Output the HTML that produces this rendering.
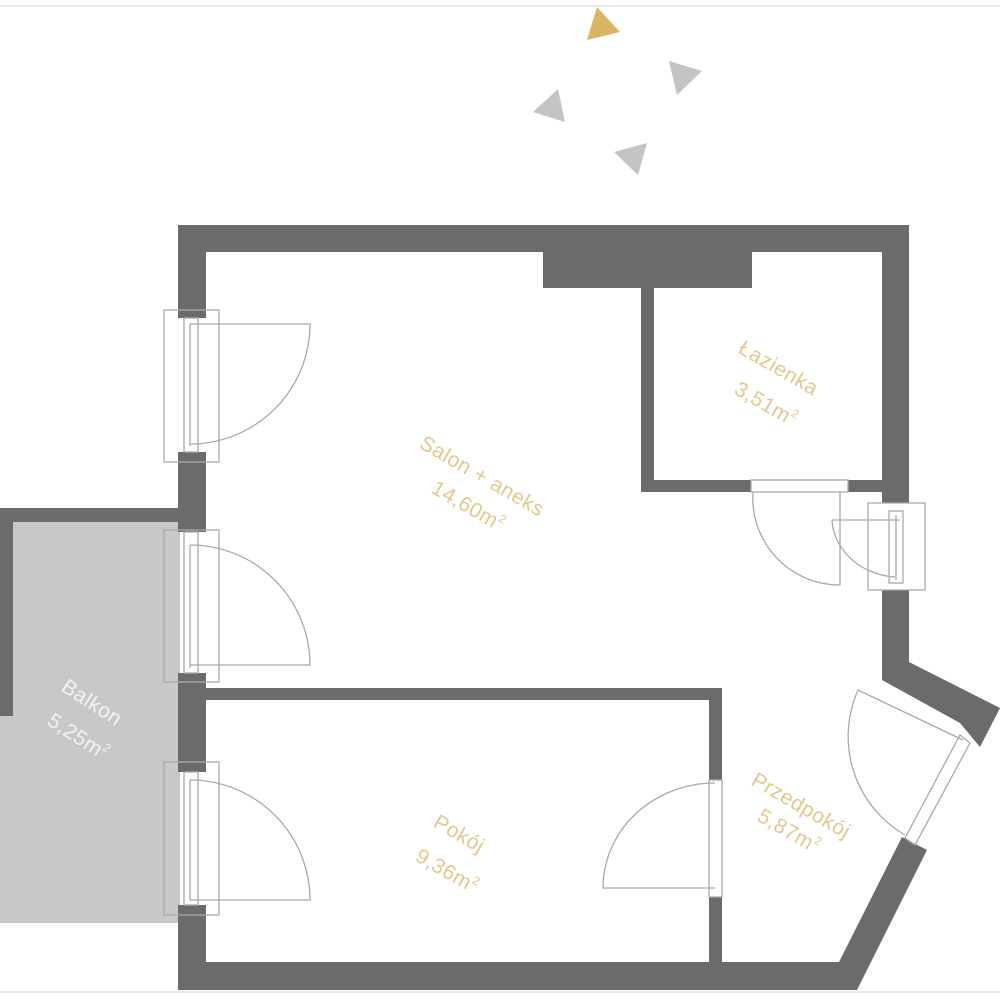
<!DOCTYPE html>
<html><head><meta charset="utf-8"><style>
html,body{margin:0;padding:0;background:#fff;width:1000px;height:1000px;overflow:hidden}
svg{display:block}
text{font-family:"Liberation Sans",sans-serif;fill:#e3c88e;font-size:21px;letter-spacing:0.5px}
</style></head><body>
<svg width="1000" height="1000" viewBox="0 0 1000 1000">
<line x1="0" y1="6" x2="1000" y2="6" stroke="#e2e2e2" stroke-width="1.5"/>
<line x1="0" y1="992" x2="1000" y2="992" stroke="#e2e2e2" stroke-width="1.5"/>
<polygon points="597,7 620,32 587,40" fill="#dbb464"/>
<polygon points="669,61 702,71 677,95" fill="#c4c4c4"/>
<polygon points="558,89 565,122 533,112" fill="#c4c4c4"/>
<polygon points="647,143 638,175 614,152" fill="#c4c4c4"/>
<rect x="0" y="520" width="180" height="403" fill="#c8c8c8"/>
<rect x="0" y="508" width="180" height="14" fill="#6d6b69"/>
<rect x="0" y="508" width="13" height="208" fill="#6d6b69"/>
<g fill="#6d6b69">
<rect x="178" y="225" width="731" height="27"/>
<rect x="178" y="225" width="28" height="93"/>
<rect x="178" y="452" width="28" height="80"/>
<rect x="178" y="673" width="28" height="99"/>
<rect x="178" y="905" width="28" height="85"/>
<polygon points="178,962 839,962 902,837 927,850 857,990 178,990"/>
<rect x="882" y="225" width="27" height="278"/>
<polygon points="882,590 909,590 909,662 1000,708 980,747 960,723 882,680"/>
<rect x="543" y="252" width="209" height="36"/>
<rect x="641" y="252" width="13" height="240"/>
<rect x="641" y="480" width="110" height="12"/>
<rect x="848" y="480" width="34" height="12"/>
<rect x="206" y="688" width="516" height="12"/>
<rect x="709" y="688" width="13" height="92"/>
<rect x="709" y="897" width="13" height="65"/>
</g>
<g fill="none" stroke="#a9a9a9" stroke-width="1.3">
<rect x="164" y="310" width="55" height="152"/>
<rect x="184" y="318" width="14" height="134"/><line x1="190" y1="324" x2="190" y2="446"/>
<path d="M190,324 H310 A120,120 0 0 1 190,444"/>
<rect x="164" y="530" width="55" height="152"/>
<rect x="184" y="532" width="14" height="141"/><line x1="190" y1="545" x2="190" y2="668"/>
<path d="M190,545 A120,120 0 0 1 310,665 H190"/>
<rect x="164" y="762" width="55" height="153"/>
<rect x="184" y="772" width="14" height="133"/><line x1="190" y1="780" x2="190" y2="900"/>
<path d="M190,780 A120,120 0 0 1 310,900 H190"/>
<rect x="751" y="480" width="97" height="12"/>
<path d="M753,492 A87,87 0 0 0 840,585 V492"/>
<rect x="868" y="503" width="57" height="87"/>
<rect x="889" y="511" width="14" height="72"/><line x1="896" y1="515" x2="896" y2="580"/>
<path d="M832,520 H900 M832,520 A68,60 0 0 0 895,577"/>
<rect x="709" y="780" width="13" height="117"/>
<path d="M715,783 A112,105 0 0 0 603,888 H715"/>
<polygon points="960,735 970,743 915,845 905,838"/>
<path d="M963,740 L858,690 A114,114 0 0 0 905,835"/>
</g>
<text transform="translate(418,447) rotate(30)">Salon + aneks</text>
<text transform="translate(430,492) rotate(30)">14,60m<tspan font-size="12" dy="-9">2</tspan></text>
<text transform="translate(737,352) rotate(30)">Łazienka</text>
<text transform="translate(733,393) rotate(30)">3,51m<tspan font-size="12" dy="-9">2</tspan></text>
<text transform="translate(432,826) rotate(30)">Pokój</text>
<text transform="translate(414,860) rotate(30)">9,36m<tspan font-size="12" dy="-9">2</tspan></text>
<text transform="translate(750,784) rotate(30)">Przedpokój</text>
<text transform="translate(756,820) rotate(30)">5,87m<tspan font-size="12" dy="-9">2</tspan></text>
<text transform="translate(60,690) rotate(33)" style="fill:#f2f2f2">Balkon</text>
<text transform="translate(46,724) rotate(33)" style="fill:#f2f2f2">5,25m<tspan font-size="12" dy="-9">2</tspan></text>
</svg>
</body></html>
